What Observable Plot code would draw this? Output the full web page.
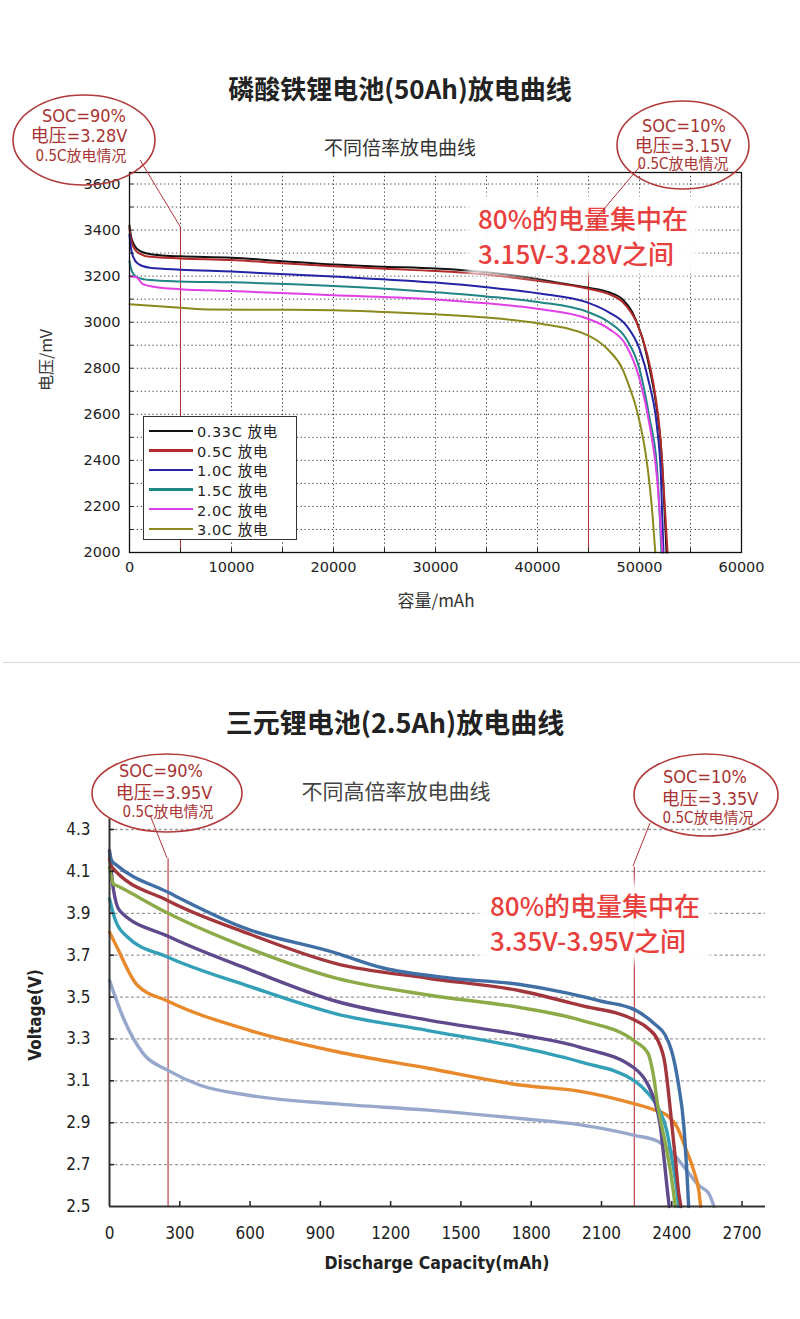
<!DOCTYPE html>
<html><head><meta charset="utf-8">
<script src="https://cdn.jsdelivr.net/npm/d3@7"></script>
<script src="https://cdn.jsdelivr.net/npm/@observablehq/plot@0.6"></script>
<style>
body{margin:0;background:#fff;}
#root{position:relative;width:800px;height:1319px;overflow:hidden;background:#fff;font-family:"Noto Sans CJK SC",sans-serif;}
</style></head><body><div id="root"></div>
<script>
// ---------------- Data: LFP (top) ----------------
const lfpTitle = "磷酸铁锂电池(50Ah)放电曲线";
const lfpSubtitle = "不同倍率放电曲线";
const lfpXLabel = "容量/mAh";
const lfpYLabel = "电压/mV";
const lfpXTicks = [0,10000,20000,30000,40000,50000,60000];
const lfpYTicks = [2000,2200,2400,2600,2800,3000,3200,3400,3600];
const lfpNames = ["0.33C 放电","0.5C 放电","1.0C 放电","1.5C 放电","2.0C 放电","3.0C 放电"];
const lfp033C = [[0,3420],[150,3372],[500,3332],[1000,3310],[2000,3296],[3500,3289],[5000,3286],[10000,3280],[15000,3265],[20000,3250],[25000,3241],[30000,3233],[35000,3217],[40000,3188],[42500,3168],[45000,3150],[47000,3130],[48300,3101],[49300,3043],[50300,2928],[51000,2797],[51700,2623],[52200,2406],[52450,2188],[52650,2000]];
const lfp05C = [[0,3410],[150,3360],[500,3318],[1000,3298],[2000,3284],[5000,3277],[10000,3270],[15000,3256],[20000,3243],[25000,3232],[30000,3222],[35000,3207],[40000,3180],[45000,3145],[47000,3122],[48300,3090],[49700,3000],[50700,2870],[51500,2696],[52000,2522],[52400,2261],[52750,2000]];
const lfp10C = [[0,3380],[150,3320],[400,3280],[800,3255],[2000,3236],[5000,3228],[10000,3220],[20000,3198],[30000,3172],[35000,3152],[40000,3126],[45000,3084],[47000,3043],[48700,2986],[50000,2884],[51000,2725],[51700,2551],[52100,2333],[52350,2000]];
const lfp15C = [[0,3265],[200,3225],[700,3196],[2000,3183],[5000,3177],[10000,3173],[20000,3157],[30000,3130],[35000,3112],[40000,3088],[45000,3043],[47000,3000],[48700,2928],[50000,2797],[51000,2580],[51700,2377],[52150,2000]];
const lfp20C = [[0,3200],[700,3195],[1300,3165],[2500,3153],[5000,3143],[10000,3135],[20000,3117],[30000,3099],[35000,3082],[40000,3058],[45000,3014],[47000,2971],[48700,2899],[50000,2754],[51000,2551],[51700,2333],[52250,2000]];
const lfp30C = [[0,3078],[5000,3063],[8000,3055],[15000,3054],[20000,3052],[25000,3044],[30000,3034],[35000,3020],[40000,2995],[45000,2942],[47000,2877],[48300,2800],[49000,2720],[49600,2640],[50100,2550],[50600,2430],[51000,2290],[51300,2150],[51550,2000]];
const lfpSeries = [lfp033C, lfp05C, lfp10C, lfp15C, lfp20C, lfp30C];
const lfpMarkers = [[5000,3410],[45000,3410]];
const lfpNotes = [["SOC=90%","电压=3.28V","0.5C放电情况"],["SOC=10%","电压=3.15V","0.5C放电情况"]];
const lfpCallout = ["80%的电量集中在","3.15V-3.28V之间"];

// ---------------- Data: NCM (bottom) ----------------
const ncmTitle = "三元锂电池(2.5Ah)放电曲线";
const ncmSubtitle = "不同高倍率放电曲线";
const ncmXLabel = "Discharge Capacity(mAh)";
const ncmYLabel = "Voltage(V)";
const ncmXTicks = [0,300,600,900,1200,1500,1800,2100,2400,2700];
const ncmYTicks = [2.5,2.7,2.9,3.1,3.3,3.5,3.7,3.9,4.1,4.3];
const ncmBlue = [[0,4.19],[10,4.15],[30,4.13],[250,4.0],[575,3.83],[967,3.71],[1164,3.64],[1458,3.59],[1752,3.56],[1950,3.52],[2100,3.48],[2241,3.44],[2328,3.37],[2371,3.32],[2400,3.24],[2429,3.08],[2451,2.89],[2465,2.65],[2472,2.5]];
const ncmRed = [[0,4.16],[10,4.12],[250,3.96],[600,3.80],[967,3.66],[1360,3.59],[1752,3.53],[2010,3.46],[2241,3.39],[2299,3.35],[2342,3.29],[2371,3.18],[2393,2.97],[2415,2.73],[2429,2.57],[2439,2.5]];
const ncmGreen = [[0,4.12],[17,4.04],[35,4.03],[250,3.9],[600,3.73],[967,3.59],[1360,3.51],[1752,3.45],[2010,3.39],[2241,3.29],[2299,3.23],[2321,3.13],[2342,2.97],[2371,2.81],[2397,2.65],[2415,2.5]];
const ncmPurple = [[0,4.2],[16,4.02],[45,3.91],[250,3.79],[600,3.63],[967,3.48],[1360,3.39],[1752,3.32],[2010,3.26],[2241,3.16],[2299,3.08],[2328,3.0],[2350,2.89],[2364,2.76],[2379,2.60],[2389,2.5]];
const ncmTeal = [[0,3.97],[24,3.87],[73,3.79],[250,3.69],[600,3.55],[967,3.42],[1360,3.34],[1752,3.26],[2010,3.19],[2241,3.10],[2299,3.04],[2342,2.97],[2379,2.86],[2400,2.73],[2419,2.60],[2429,2.5]];
const ncmOrange = [[0,3.81],[31,3.74],[116,3.56],[250,3.48],[600,3.34],[967,3.24],[1360,3.16],[1752,3.08],[2010,3.05],[2241,2.99],[2328,2.96],[2386,2.93],[2422,2.88],[2458,2.78],[2494,2.67],[2516,2.57],[2523,2.5]];
const ncmLavender = [[0,3.58],[59,3.40],[144,3.23],[250,3.15],[384,3.08],[600,3.03],[967,2.99],[1360,2.96],[1752,2.92],[2010,2.89],[2241,2.84],[2342,2.81],[2400,2.76],[2458,2.68],[2516,2.60],[2559,2.56],[2580,2.5]];
const ncmSeries = [ncmLavender, ncmOrange, ncmTeal, ncmPurple, ncmGreen, ncmRed, ncmBlue];
const ncmMarkers = [[250,4.16],[2240,4.12]];
const ncmNotes = [["SOC=90%","电压=3.95V","0.5C放电情况"],["SOC=10%","电压=3.35V","0.5C放电情况"]];
const ncmCallout = ["80%的电量集中在","3.35V-3.95V之间"];

// ---------------- Styles ----------------
const lfpColors = ["#111111","#b22a2a","#2424a6","#1f8585","#e040e6","#8c8a1e"];
const ncmColors = ["#97a8cc","#e8892c","#33a0b8","#5e4a8c","#8cab48","#a2363c","#3f6fa4"];
const markRed = "#b3333b";
const noteRed = "#a83434";
const calloutRed = "#e8403d";
const narrow = "'Liberation Sans Narrow','DejaVu Sans Condensed','Noto Sans CJK SC',sans-serif";

const root = document.getElementById("root");
function el(tag, css, text){const e=document.createElement(tag);e.style.cssText=css;if(text!=null)e.textContent=text;root.appendChild(e);return e;}
function rows(pts){return pts.map(([x,y])=>({x,y}));}

// titles
el("div","position:absolute;left:0;top:72px;width:800px;text-align:center;font-weight:bold;font-size:26px;line-height:32px;color:#222;",lfpTitle);
el("div","position:absolute;left:0;top:135px;width:800px;text-align:center;font-size:19px;line-height:24px;color:#333;",lfpSubtitle);
el("div","position:absolute;left:0;top:705px;width:790px;text-align:center;font-weight:bold;font-size:27px;line-height:34px;color:#222;",ncmTitle);
el("div","position:absolute;left:0;top:777px;width:792px;text-align:center;font-size:21px;line-height:26px;color:#444;",ncmSubtitle);

// separator
el("div","position:absolute;left:3px;top:662px;width:797px;height:1px;background:#d8d8d8;");

// ---------------- Top plot ----------------
const dotted = {stroke:"#222", strokeOpacity:0.85, strokeDasharray:"1.3,2.6", strokeWidth:1};
const p1 = Plot.plot({
  width:800, height:460, marginLeft:129, marginRight:59, marginTop:12, marginBottom:68,
  x:{domain:[0,60000]}, y:{domain:[2000,3650]},
  style:{fontFamily:"'DejaVu Sans',sans-serif", fontSize:"14px", color:"#222", background:"transparent"},
  marks:[
    Plot.gridX({ticks:d3.range(5000,60000,5000), ...dotted}),
    Plot.gridY({ticks:d3.range(2100,3650,100), ...dotted}),
    Plot.ruleX(lfpMarkers, {x:d=>d[0], y1:2000, y2:d=>d[1], stroke:markRed, strokeWidth:1.1}),
    ...lfpSeries.map((s,i)=>Plot.line(rows(s),{x:"x",y:"y",stroke:lfpColors[i],strokeWidth:2,curve:"monotone-x"})),
    Plot.frame({stroke:"#111", strokeWidth:1.3}),
    Plot.axisX({ticks:lfpXTicks, tickSize:0, tickPadding:9, tickFormat:d=>String(d), label:null, fontSize:14.5}),
    Plot.axisX({ticks:d3.range(5000,60000,5000), tickSize:-4, fill:"none"}),
    Plot.axisY({ticks:lfpYTicks, tickSize:0, tickPadding:9, tickFormat:d=>String(d), label:null, fontSize:14.5}),
    Plot.axisY({ticks:d3.range(2100,3650,100), tickSize:-4, fill:"none"})
  ]
});
const w1 = el("div","position:absolute;left:0;top:160px;");
w1.appendChild(p1);
el("div","position:absolute;left:336px;top:588px;width:200px;text-align:center;font-size:17px;line-height:24px;color:#333;",lfpXLabel);
el("div","position:absolute;left:-55px;top:348px;width:200px;text-align:center;font-size:16px;line-height:24px;color:#333;transform:rotate(-90deg);",lfpYLabel);

// legend
const lg = el("div","position:absolute;left:143px;top:416px;width:154px;height:124px;border:1px solid #333;background:#fff;box-sizing:border-box;padding-top:4px;");
lfpNames.forEach((n,i)=>{
  const r=document.createElement("div");
  r.style.cssText="display:flex;align-items:center;height:19.6px;";
  const ln=document.createElement("div");
  ln.style.cssText=`width:44px;height:2.4px;background:${lfpColors[i]};margin-left:5px;margin-right:4px;`;
  const t=document.createElement("div");
  t.style.cssText="font-family:'DejaVu Sans','Noto Sans CJK SC',sans-serif;font-size:14.5px;letter-spacing:0.6px;color:#222;white-space:nowrap;";
  t.textContent=n;
  r.appendChild(ln);r.appendChild(t);lg.appendChild(r);
});

// ---------------- Bottom plot ----------------
const p2 = Plot.plot({
  width:800, height:460, marginLeft:109, marginRight:35, marginTop:29, marginBottom:54,
  x:{domain:[0,2800]}, y:{domain:[2.5,4.3]},
  style:{fontFamily:narrow, fontSize:"17px", color:"#222", background:"transparent"},
  marks:[
    Plot.gridY({ticks:ncmYTicks.slice(1), stroke:"#9a9a9a", strokeOpacity:1, strokeDasharray:"3,2.5", strokeWidth:1.3}),
    Plot.ruleX(ncmMarkers, {x:d=>d[0], y1:2.5, y2:d=>d[1], stroke:markRed, strokeWidth:1.1}),
    ...ncmSeries.map((s,i)=>Plot.line(rows(s),{x:"x",y:"y",stroke:ncmColors[i],strokeWidth:3.4,curve:"monotone-x",strokeLinecap:"round"})),
    Plot.ruleX([0], {y1:2.5, y2:4.35, stroke:"#333", strokeWidth:2}),
    Plot.ruleY([2.5], {stroke:"#333", strokeWidth:2}),
    Plot.axisX({ticks:ncmXTicks, tickSize:0, tickPadding:20, tickFormat:d=>String(d), label:null, fontSize:17}),
    Plot.axisX({ticks:ncmXTicks.slice(1), tickSize:-5, fill:"none", strokeWidth:1.5}),
    Plot.axisY({ticks:ncmYTicks, tickSize:0, tickPadding:19, tickFormat:d3.format(".1f"), label:null, fontSize:17}),
    Plot.axisY({ticks:ncmYTicks.slice(1), tickSize:-5, fill:"none", strokeWidth:1.5})
  ]
});
const w2 = el("div","position:absolute;left:0;top:800px;");
w2.appendChild(p2);
el("div",`position:absolute;left:287px;top:1250px;width:300px;text-align:center;font-family:${narrow};font-weight:bold;font-size:17.5px;line-height:26px;color:#222;`,ncmXLabel);
el("div",`position:absolute;left:-65px;top:1002px;width:200px;text-align:center;font-family:${narrow};font-weight:bold;font-size:17px;line-height:26px;color:#222;transform:rotate(-90deg);`,ncmYLabel);

// ---------------- Callouts ----------------
function callout(lines,left,top){
  const d=el("div",`position:absolute;left:${left}px;top:${top}px;padding:0 6px;font-size:26px;line-height:35px;font-weight:500;color:${calloutRed};background:rgba(255,255,255,0.93);box-shadow:0 0 8px 5px rgba(255,255,255,0.93);white-space:nowrap;`);
  lines.forEach(l=>{const s=document.createElement("div");s.textContent=l;d.appendChild(s);});
}
callout(lfpCallout,472,200);
callout(ncmCallout,484,887);

// ---------------- Annotation overlay ----------------
const NS="http://www.w3.org/2000/svg";
const ov=document.createElementNS(NS,"svg");
ov.setAttribute("width","800");ov.setAttribute("height","1319");
ov.style.cssText="position:absolute;left:0;top:0;pointer-events:none;";
root.appendChild(ov);
function sv(tag,attrs,text){const e=document.createElementNS(NS,tag);for(const k in attrs)e.setAttribute(k,attrs[k]);if(text!=null)e.textContent=text;ov.appendChild(e);return e;}
const ellipses=[
  {cx:84,cy:140,rx:71,ry:45,notes:lfpNotes[0],tx:[84,79,81],ty:[115,135,156],line:[140,160,181,228]},
  {cx:683,cy:145,rx:66,ry:44,notes:lfpNotes[1],tx:[684,683,683],ty:[125,145,164],line:[641,165,588,228]},
  {cx:167,cy:793,rx:75,ry:39,notes:ncmNotes[0],tx:[161,164,168],ty:[770,792,812],line:[150,815,167,858]},
  {cx:706,cy:795,rx:72,ry:41,notes:ncmNotes[1],tx:[705,710,708],ty:[776,798,818],line:[650,823,633,866]}
];
ellipses.forEach(e=>{
  sv("ellipse",{cx:e.cx,cy:e.cy,rx:e.rx,ry:e.ry,fill:"none",stroke:"#b33a3a","stroke-width":1.6});
  sv("line",{x1:e.line[0],y1:e.line[1],x2:e.line[2],y2:e.line[3],stroke:markRed,"stroke-width":1});
  e.notes.forEach((t,i)=>{
    sv("text",{x:e.tx[i],y:e.ty[i],"text-anchor":"middle","dominant-baseline":"central",fill:noteRed,
      "font-family":narrow,"font-size":i<2?18:15},t);
  });
});
</script></body></html>
